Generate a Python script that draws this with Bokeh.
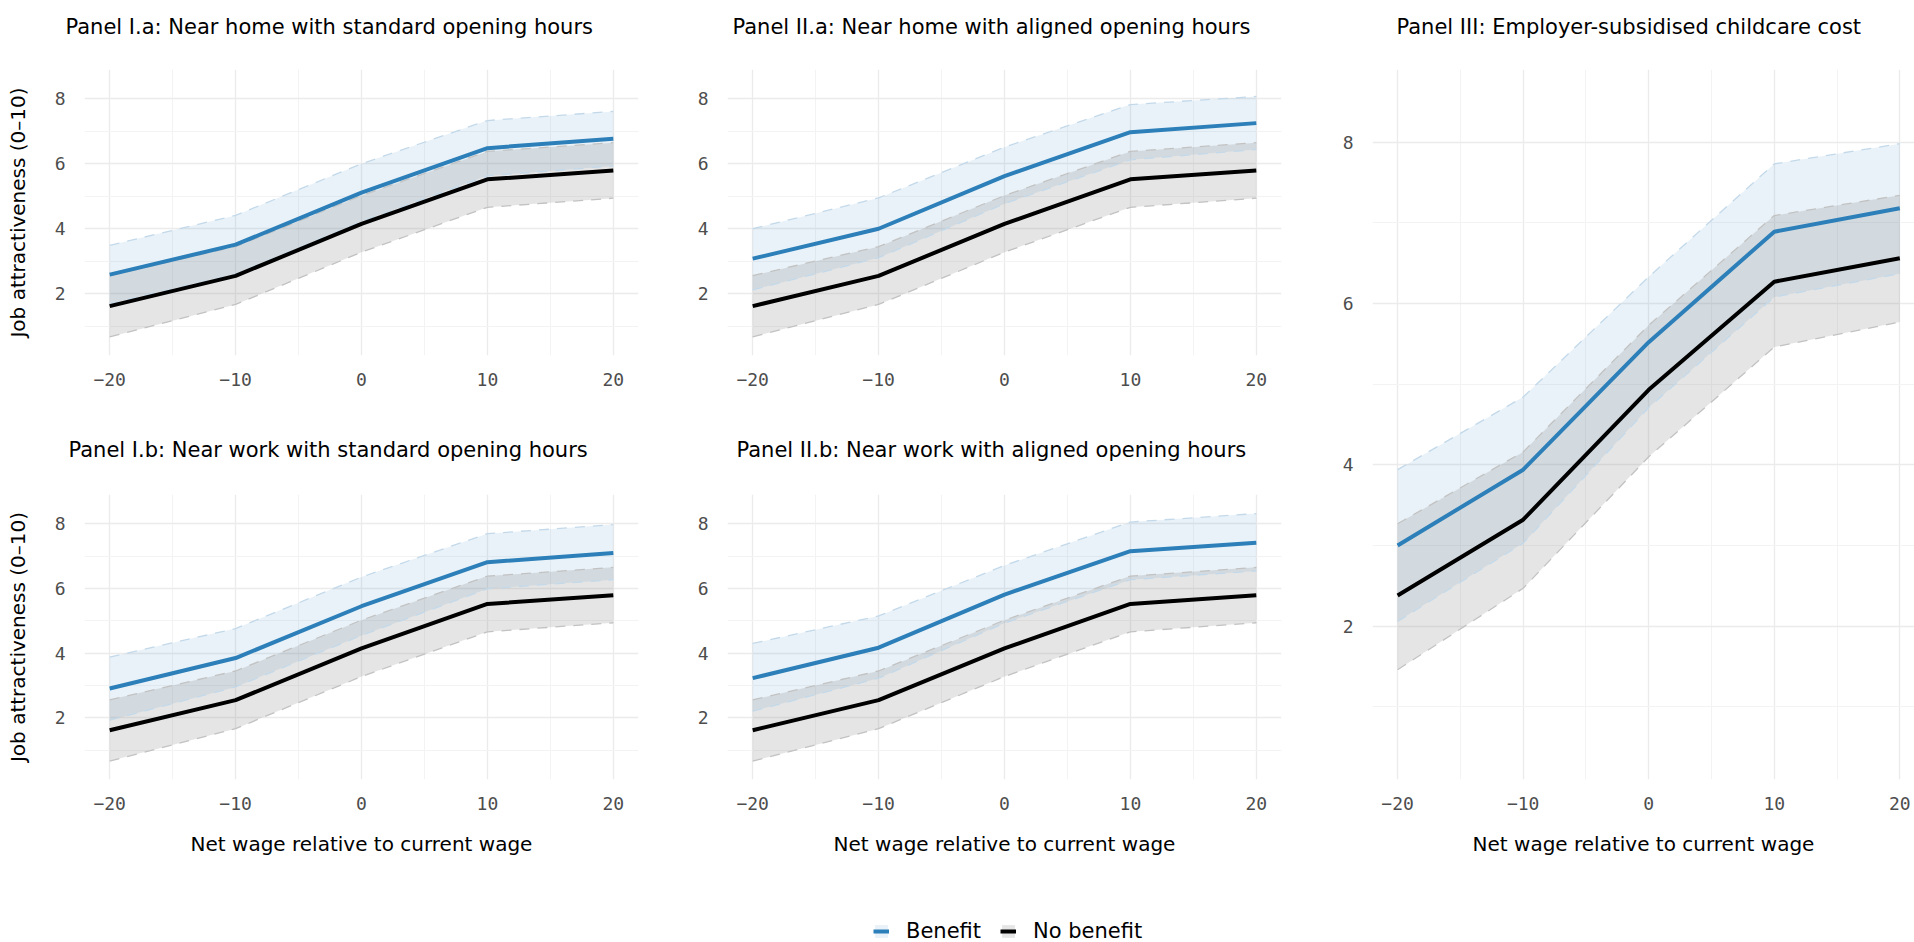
from bokeh.plotting import figure
from bokeh.models import Range1d, FixedTicker, Legend, LegendItem, Label
from bokeh.layouts import row, column
from bokeh.embed import file_html
from bokeh.resources import INLINE

# ---------------- data ----------------
wage = [-20, -10, 0, 10, 20]
x_ticks = [-20, -10, 0, 10, 20]
y_ticks = [2, 4, 6, 8]

# No benefit (same in panels I.a, I.b, II.a, II.b)
nob_mean = [1.62, 2.55, 4.15, 5.52, 5.79]
nob_low = [0.67, 1.67, 3.28, 4.66, 4.94]
nob_high = [2.56, 3.45, 5.02, 6.38, 6.65]

# Panel I.a benefit
ia_mean = [2.59, 3.51, 5.11, 6.48, 6.77]
ia_low = [1.69, 2.61, 4.22, 5.63, 5.93]
ia_high = [3.49, 4.41, 6.00, 7.33, 7.61]

# Panel II.a benefit
iia_mean = [3.08, 4.00, 5.62, 6.97, 7.25]
iia_low = [2.12, 3.11, 4.77, 6.12, 6.44]
iia_high = [4.00, 4.95, 6.51, 7.82, 8.07]

# Panel I.b benefit
ib_mean = [2.91, 3.85, 5.45, 6.81, 7.09]
ib_low = [1.93, 2.96, 4.55, 5.99, 6.27]
ib_high = [3.88, 4.76, 6.35, 7.69, 7.97]

# Panel II.b benefit
iib_mean = [3.23, 4.17, 5.81, 7.15, 7.41]
iib_low = [2.21, 3.23, 4.93, 6.27, 6.54]
iib_high = [4.30, 5.15, 6.71, 8.05, 8.31]

# Panel III
iii_b_mean = [3.00, 3.94, 5.52, 6.89, 7.18]
iii_b_low = [2.06, 3.03, 4.71, 6.08, 6.37]
iii_b_high = [3.94, 4.84, 6.33, 7.73, 7.98]
iii_n_mean = [2.38, 3.32, 4.93, 6.27, 6.56]
iii_n_low = [1.46, 2.47, 4.10, 5.46, 5.77]
iii_n_high = [3.27, 4.16, 5.73, 7.09, 7.34]

titles = [
    "Panel I.a: Near home with standard opening hours",
    "Panel II.a: Near home with aligned opening hours",
    "Panel I.b: Near work with standard opening hours",
    "Panel II.b: Near work with aligned opening hours",
    "Panel III: Employer-subsidised childcare cost",
]
y_title = "Job attractiveness (0\u201310)"
x_title = "Net wage relative to current wage"
legend_labels = ["Benefit", "No benefit"]

# ---------------- style ----------------
BLUE = "#2C7FB8"
FONT = "DejaVu Sans"
TICKFONT = "DejaVu Sans Mono"


def blank(width, height):
    f = figure(width=width, height=height,
               x_range=Range1d(0, width), y_range=Range1d(0, height),
               x_axis_type=None, y_axis_type=None, min_border=0,
               output_backend="svg", toolbar_location=None)
    f.outline_line_color = None
    f.xgrid.visible = False
    f.ygrid.visible = False
    return f


def title_strip(texts, lefts, width, height, center_from_top):
    t = blank(width, height)
    for text, left in zip(texts, lefts):
        t.add_layout(Label(x=left, y=height - center_from_top, text=text,
                           text_align="left", text_baseline="middle",
                           text_font=FONT, text_font_size="21px",
                           text_color="black"))
    return t


def make_panel(b, n, fw, fh, bl, br, bt, bb, ylab, xlab, x_end):
    p = figure(frame_width=fw, frame_height=fh,
               x_range=Range1d(-22, x_end), y_range=Range1d(0.1, 8.9),
               min_border_left=bl, min_border_right=br,
               min_border_top=bt, min_border_bottom=bb,
               output_backend="svg", toolbar_location=None)
    p.outline_line_color = None
    p.background_fill_color = "white"
    p.border_fill_color = "white"

    p.xaxis.ticker = FixedTicker(ticks=x_ticks, minor_ticks=[-15, -5, 5, 15])
    p.yaxis.ticker = FixedTicker(ticks=y_ticks, minor_ticks=[1, 3, 5, 7])
    for ax in (p.xaxis, p.yaxis):
        ax.axis_line_color = None
        ax.major_tick_line_color = None
        ax.minor_tick_line_color = None
        ax.major_label_text_font = TICKFONT
        ax.major_label_text_font_size = "18px"
        ax.major_label_text_color = "#4d4d4d"
        ax.axis_label_text_font = FONT
        ax.axis_label_text_font_size = "20px"
        ax.axis_label_text_font_style = "normal"
        ax.axis_label_text_color = "black"
    p.xaxis.major_label_standoff = 11
    p.yaxis.major_label_standoff = 13
    p.yaxis.axis_label_standoff = 22
    p.xaxis.axis_label_standoff = 19
    if ylab:
        p.yaxis.axis_label = y_title
    if xlab:
        p.xaxis.axis_label = x_title

    for g in (p.xgrid, p.ygrid):
        g.grid_line_color = "#ebebeb"
        g.grid_line_width = 1.3
        g.minor_grid_line_color = "#f3f3f3"
        g.minor_grid_line_width = 1.0

    bmean, blow, bhigh = b
    nmean, nlow, nhigh = n
    p.varea(x=wage, y1=blow, y2=bhigh, fill_color=BLUE, fill_alpha=0.1)
    p.varea(x=wage, y1=nlow, y2=nhigh, fill_color="#7f7f7f", fill_alpha=0.2)
    for ys in (blow, bhigh):
        p.line(wage, ys, line_color="#c3d9ea", line_width=1.3, line_dash="10 8")
    for ys in (nlow, nhigh):
        p.line(wage, ys, line_color="#c2c2c2", line_width=1.3, line_dash="10 8")
    p.line(wage, bmean, line_color=BLUE, line_width=4)
    p.line(wage, nmean, line_color="black", line_width=4)
    return p


nob = (nob_mean, nob_low, nob_high)

# title strips (row 1 spans full width, row 2 spans the left block)
strip1 = title_strip([titles[0], titles[1], titles[4]], [65, 732, 1396], 1914, 50, 26)
strip2 = title_strip([titles[2], titles[3]], [68, 736], 1300, 52, 39)

# column widths: 660 | 640 | 614  (total 1914)
p1 = make_panel((ia_mean, ia_low, ia_high), nob,
                554, 286, 84, 22, 19, 55, True, False, 22)
p2 = make_panel((iia_mean, iia_low, iia_high), nob,
                554, 286, 67, 19, 19, 55, False, False, 22)
p3 = make_panel((ib_mean, ib_low, ib_high), nob,
                554, 285, 84, 22, 32, 91, True, True, 22)
p4 = make_panel((iib_mean, iib_low, iib_high), nob,
                554, 285, 67, 19, 32, 91, False, True, 22)
p5 = make_panel((iii_b_mean, iii_b_low, iii_b_high),
                (iii_n_mean, iii_n_low, iii_n_high),
                542, 710, 72, 0, 19, 91, False, True, 21.17)

# ---------------- legend strip ----------------
lg = blank(1914, 72)
# key glyphs only (data kept outside the visible range)
kb_fill = lg.varea(x=[5000, 5001], y1=[5000, 5000], y2=[5001, 5001], fill_color=BLUE, fill_alpha=0.1)
kb_line = lg.line(x=[5000, 5001], y=[5000, 5000], line_color=BLUE, line_width=4)
kn_fill = lg.varea(x=[5000, 5001], y1=[5000, 5000], y2=[5001, 5001], fill_color="#7f7f7f", fill_alpha=0.2)
kn_line = lg.line(x=[5000, 5001], y=[5000, 5000], line_color="black", line_width=4)
legend = Legend(items=[LegendItem(label=legend_labels[0], renderers=[kb_fill, kb_line]),
                       LegendItem(label=legend_labels[1], renderers=[kn_fill, kn_line])],
                orientation="horizontal", location=(873, -1),
                label_text_font=FONT, label_text_font_size="21px",
                label_text_color="black",
                glyph_width=16, glyph_height=16, label_standoff=17, spacing=19,
                padding=0, margin=0, border_line_color=None,
                background_fill_alpha=0)
lg.add_layout(legend, "center")

left_block = column(row(p1, p2), strip2, row(p3, p4))
layout = column(strip1, row(left_block, p5), lg)

open("out.html", "w").write(file_html(layout, INLINE))
